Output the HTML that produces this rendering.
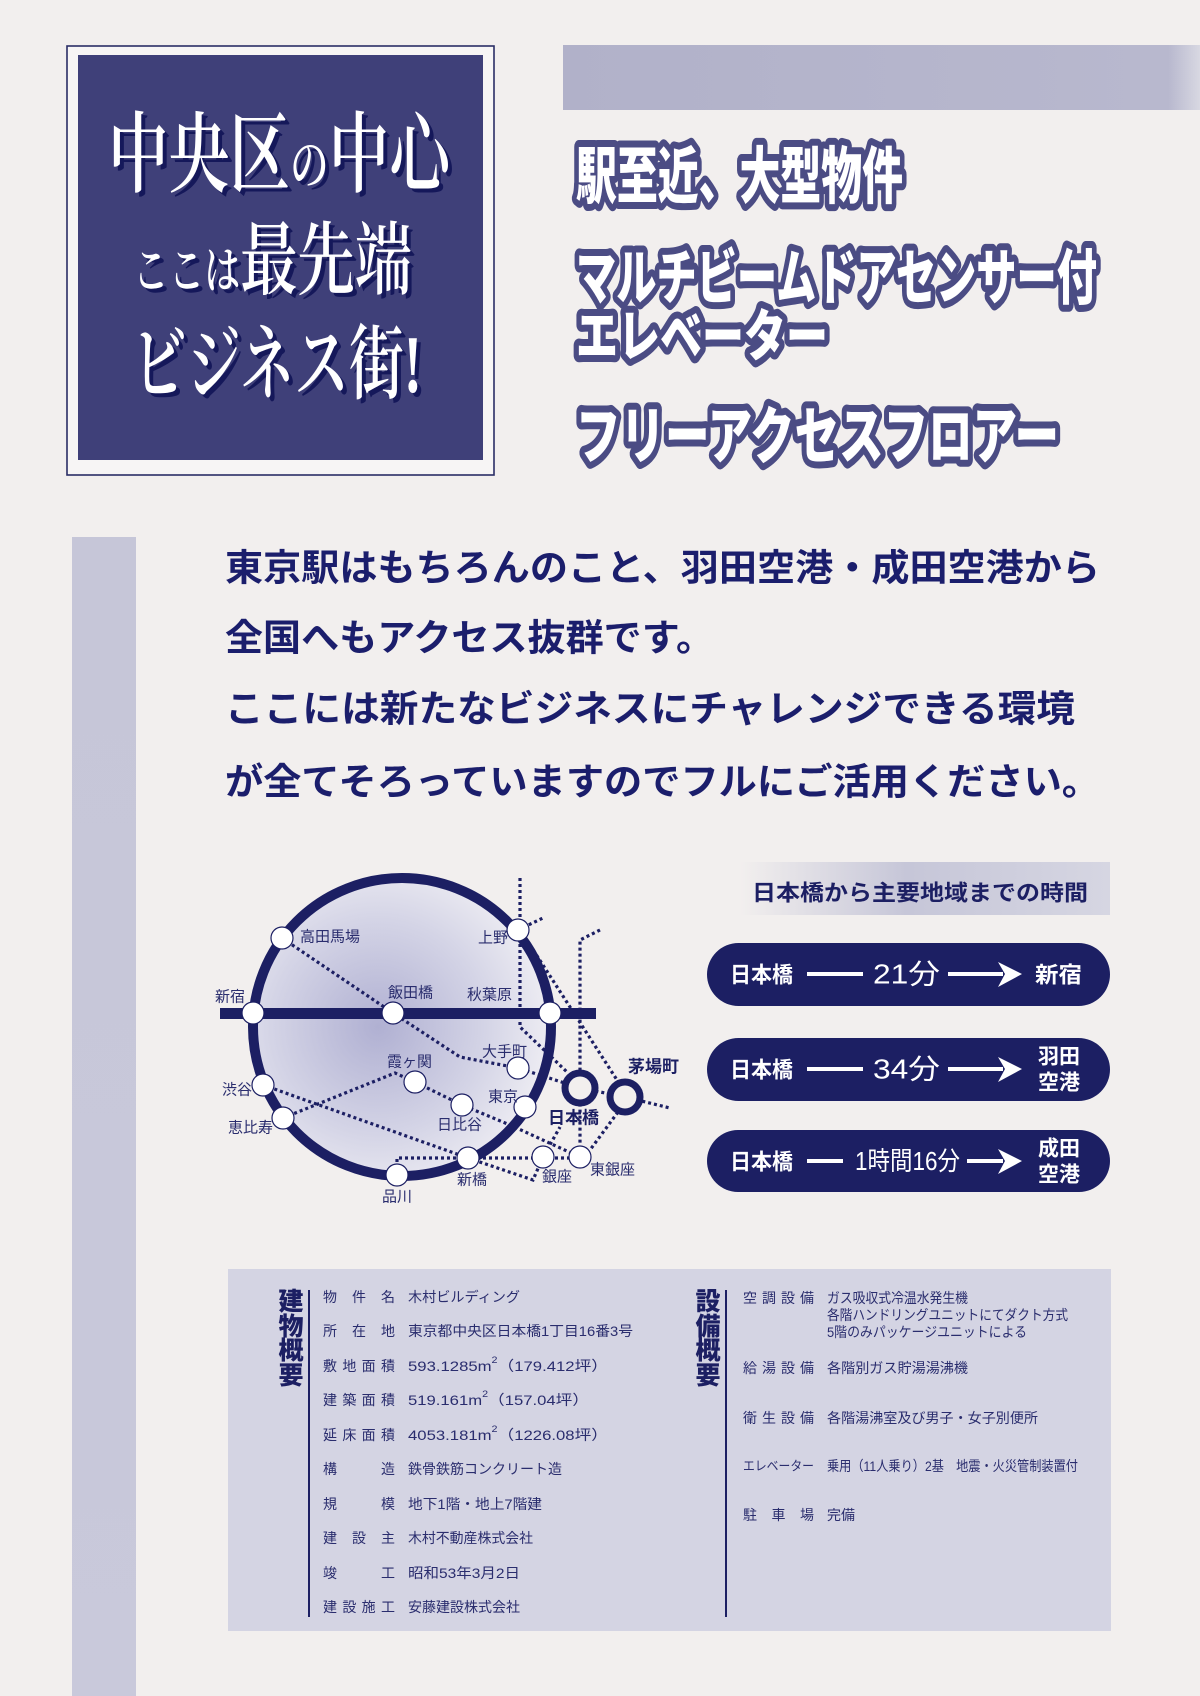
<!DOCTYPE html>
<html><head><meta charset="utf-8"><style>
html,body{margin:0;padding:0;background:#f2efee;}
body{width:1200px;height:1696px;position:relative;overflow:hidden;}
svg{position:absolute;left:0;top:0;}
</style></head><body>
<svg width="1200" height="1696" viewBox="0 0 1200 1696" xmlns="http://www.w3.org/2000/svg">
<defs>
<radialGradient id="cg" cx="0.42" cy="0.5" r="0.6">
<stop offset="0" stop-color="#b0b0d2"/><stop offset="0.6" stop-color="#d4d4e6"/><stop offset="1" stop-color="#f0eff4"/>
</radialGradient>
<linearGradient id="tb" x1="0" x2="1" y1="0" y2="0">
<stop offset="0" stop-color="#f2efee"/><stop offset="0.45" stop-color="#c6c6d8"/><stop offset="1" stop-color="#d6d6e2"/>
</linearGradient>
<linearGradient id="topbar" x1="0" x2="1"><stop offset="0" stop-color="#b1b1c9"/><stop offset="0.95" stop-color="#b8b8ce"/><stop offset="1" stop-color="#d8d8e2"/></linearGradient>
<linearGradient id="lbar" x1="0" x2="0" y1="0" y2="1"><stop offset="0" stop-color="#c6c6d8"/><stop offset="1" stop-color="#c9c9db"/></linearGradient>
</defs>

<rect x="67" y="46" width="427" height="429" fill="#f7f5f5" stroke="#2a2d66" stroke-width="1.6"/>
<rect x="78" y="55" width="405" height="405" fill="#3f4079"/>
<g font-family="'Liberation Serif','Noto Serif CJK SC',serif" font-weight="600">
<g fill="#15185a" transform="translate(4,4)">
<text x="108" y="185" font-size="88" textLength="342" lengthAdjust="spacingAndGlyphs">中央区<tspan font-size="56">の</tspan>中心</text>
<text x="133" y="288" font-size="80" textLength="279" lengthAdjust="spacingAndGlyphs"><tspan font-size="50">ここは</tspan>最先端</text>
<text x="132" y="392" font-size="82" textLength="290" lengthAdjust="spacingAndGlyphs">ビジネス街!</text>
</g>
<g fill="#ffffff">
<text x="108" y="185" font-size="88" textLength="342" lengthAdjust="spacingAndGlyphs">中央区<tspan font-size="56">の</tspan>中心</text>
<text x="133" y="288" font-size="80" textLength="279" lengthAdjust="spacingAndGlyphs"><tspan font-size="50">ここは</tspan>最先端</text>
<text x="132" y="392" font-size="82" textLength="290" lengthAdjust="spacingAndGlyphs">ビジネス街!</text>
</g>
</g>

<rect x="563" y="45" width="637" height="65" fill="url(#topbar)"/>

<g font-family="'Liberation Sans','Noto Sans CJK JP',sans-serif" font-weight="900" fill="#ffffff" stroke="#4b4c84" stroke-width="14" stroke-linejoin="round" paint-order="stroke">
<text x="576" y="198" font-size="62" textLength="327" lengthAdjust="spacingAndGlyphs">駅至近、大型物件</text>
<text x="576" y="299" font-size="60" textLength="521" lengthAdjust="spacingAndGlyphs">マルチビームドアセンサー付</text>
<text x="576" y="356" font-size="56" textLength="252" lengthAdjust="spacingAndGlyphs">エレベーター</text>
<text x="576" y="458" font-size="62" textLength="483" lengthAdjust="spacingAndGlyphs">フリーアクセスフロアー</text>
</g>

<rect x="72" y="537" width="64" height="1159" fill="url(#lbar)"/>

<g font-family="'Liberation Sans','Noto Sans CJK JP',sans-serif" font-weight="600" font-size="37" fill="#1b1e6c" dominant-baseline="central">
<text x="225" y="568" textLength="875" lengthAdjust="spacingAndGlyphs">東京駅はもちろんのこと、羽田空港・成田空港から</text>
<text x="225" y="638" textLength="489" lengthAdjust="spacingAndGlyphs">全国へもアクセス抜群です。</text>
<text x="225" y="709" textLength="850" lengthAdjust="spacingAndGlyphs">ここには新たなビジネスにチャレンジできる環境</text>
<text x="225" y="782" textLength="875" lengthAdjust="spacingAndGlyphs">が全てそろっていますのでフルにご活用ください。</text>
</g>

<circle cx="402" cy="1027" r="149" fill="url(#cg)"/>
<g fill="none" stroke="#1c1f63" stroke-width="3.2" stroke-dasharray="3 3">
<polyline points="282,938 393,1013 460,1057 518,1068 580,1088 625,1097 670,1108"/>
<polyline points="520,878 520,1027 567,1072"/>
<polyline points="518,930 545,917"/>
<polyline points="530,945 570,1007 617,1080"/>
<polyline points="600,930 580,940 580,1157"/>
<polyline points="618,1112 590,1150"/>
<polyline points="283,1118 395,1073 415,1082 462,1105 510,1125 580,1157"/>
<polyline points="263,1085 468,1158"/>
<polyline points="397,1168 397,1158 580,1158"/>
<polyline points="468,1158 533,1180 543,1157 560,1127"/>
</g>
<circle cx="402" cy="1027" r="149" fill="none" stroke="#1c1f63" stroke-width="10"/>
<rect x="220" y="1008" width="376" height="11" fill="#1c1f63"/>
<g fill="#ffffff" stroke="#1c1f63" stroke-width="1.2">
<circle cx="282" cy="938" r="11"/><circle cx="518" cy="930" r="11"/>
<circle cx="253" cy="1013" r="11"/><circle cx="393" cy="1013" r="11"/><circle cx="550" cy="1013" r="11"/>
<circle cx="518" cy="1068" r="11"/><circle cx="415" cy="1082" r="11"/><circle cx="462" cy="1105" r="11"/>
<circle cx="525" cy="1107" r="11"/><circle cx="263" cy="1085" r="11"/><circle cx="283" cy="1118" r="11"/>
<circle cx="397" cy="1175" r="11"/><circle cx="468" cy="1158" r="11"/><circle cx="543" cy="1157" r="11"/><circle cx="580" cy="1157" r="11"/>
</g>
<circle cx="580" cy="1088" r="15" fill="#f2efee" stroke="#1c1f63" stroke-width="7"/>
<circle cx="625" cy="1097" r="15" fill="#f2efee" stroke="#1c1f63" stroke-width="7"/>
<g font-family="'Liberation Sans','Noto Sans CJK JP',sans-serif" font-size="15" fill="#2a2d6e" dominant-baseline="central">
<text x="300" y="937">高田馬場</text>
<text x="478" y="938">上野</text>
<text x="215" y="997">新宿</text>
<text x="388" y="993">飯田橋</text>
<text x="467" y="995">秋葉原</text>
<text x="482" y="1052">大手町</text>
<text x="387" y="1062">霞ヶ関</text>
<text x="222" y="1090">渋谷</text>
<text x="488" y="1097">東京</text>
<text x="437" y="1125">日比谷</text>
<text x="228" y="1128">恵比寿</text>
<text x="457" y="1180">新橋</text>
<text x="542" y="1177">銀座</text>
<text x="590" y="1170">東銀座</text>
<text x="382" y="1197">品川</text>
<text x="548" y="1118" font-size="17" font-weight="bold" fill="#1c1f63">日本橋</text>
<text x="628" y="1067" font-size="17" font-weight="bold" fill="#1c1f63">茅場町</text>
</g>

<rect x="740" y="862" width="370" height="53" fill="url(#tb)"/>
<text x="752" y="893" font-family="'Liberation Sans','Noto Sans CJK JP',sans-serif" font-weight="bold" font-size="22" fill="#1c1f63" dominant-baseline="central" textLength="336" lengthAdjust="spacingAndGlyphs">日本橋から主要地域までの時間</text>
<g fill="#1c1f63">
<rect x="707" y="943" width="403" height="63" rx="31.5"/>
<rect x="707" y="1038" width="403" height="63" rx="31.5"/>
<rect x="707" y="1130" width="403" height="62" rx="31"/>
</g>
<g fill="#ffffff" stroke="none">
<rect x="807" y="972" width="56" height="4"/><rect x="948" y="972" width="55" height="4"/>
<polygon points="998,962 1022,974 998,987 1005,974"/>
<rect x="807" y="1067" width="56" height="4"/><rect x="948" y="1067" width="55" height="4"/>
<polygon points="998,1057 1022,1069 998,1082 1005,1069"/>
<rect x="807" y="1159" width="36" height="4"/><rect x="967" y="1159" width="36" height="4"/>
<polygon points="998,1149 1022,1161 998,1174 1005,1161"/>
</g>
<g font-family="'Liberation Sans','Noto Sans CJK JP',sans-serif" fill="#ffffff" dominant-baseline="central">
<g font-weight="bold" font-size="22">
<text x="730" y="975" textLength="63" lengthAdjust="spacingAndGlyphs">日本橋</text>
<text x="730" y="1070" textLength="63" lengthAdjust="spacingAndGlyphs">日本橋</text>
<text x="730" y="1162" textLength="63" lengthAdjust="spacingAndGlyphs">日本橋</text>
<text x="1035" y="975" textLength="47" lengthAdjust="spacingAndGlyphs">新宿</text>
<text x="1038" y="1057" font-size="21">羽田</text>
<text x="1038" y="1083" font-size="21">空港</text>
<text x="1038" y="1149" font-size="21">成田</text>
<text x="1038" y="1175" font-size="21">空港</text>
</g>
<text x="873" y="974" font-size="28" textLength="67" lengthAdjust="spacingAndGlyphs">21分</text>
<text x="873" y="1069" font-size="28" textLength="67" lengthAdjust="spacingAndGlyphs">34分</text>
<text x="855" y="1161" font-size="26" textLength="105" lengthAdjust="spacingAndGlyphs">1時間16分</text>
</g>

<rect x="228" y="1269" width="883" height="362" fill="#d4d4e3"/>
<g stroke="#1c1f63" stroke-width="2"><line x1="309" y1="1290" x2="309" y2="1617"/><line x1="726" y1="1290" x2="726" y2="1617"/></g>
<g font-family="'Liberation Sans','Noto Sans CJK JP',sans-serif" font-weight="900" font-size="25" fill="#1c1f63" text-anchor="middle" dominant-baseline="central">
<text x="291" y="1302">建</text><text x="291" y="1327">物</text><text x="291" y="1351">概</text><text x="291" y="1376">要</text>
<text x="708" y="1302">設</text><text x="708" y="1327">備</text><text x="708" y="1351">概</text><text x="708" y="1376">要</text>
</g>
<g font-family="'Liberation Sans','Noto Sans CJK JP',sans-serif" font-size="14" fill="#2a2d6e" dominant-baseline="central">
<text x="323" y="1297" textLength="72" lengthAdjust="spacing">物件名</text>
<text x="323" y="1331" textLength="72" lengthAdjust="spacing">所在地</text>
<text x="323" y="1366" textLength="72" lengthAdjust="spacing">敷地面積</text>
<text x="323" y="1400" textLength="72" lengthAdjust="spacing">建築面積</text>
<text x="323" y="1435" textLength="72" lengthAdjust="spacing">延床面積</text>
<text x="323" y="1469" textLength="72" lengthAdjust="spacing">構造</text>
<text x="323" y="1504" textLength="72" lengthAdjust="spacing">規模</text>
<text x="323" y="1538" textLength="72" lengthAdjust="spacing">建設主</text>
<text x="323" y="1573" textLength="72" lengthAdjust="spacing">竣工</text>
<text x="323" y="1607" textLength="72" lengthAdjust="spacing">建設施工</text>

<text x="408" y="1297" textLength="112" lengthAdjust="spacingAndGlyphs">木村ビルディング</text>
<text x="408" y="1331" textLength="225" lengthAdjust="spacingAndGlyphs">東京都中央区日本橋1丁目16番3号</text>
<text x="408" y="1366" textLength="200" lengthAdjust="spacingAndGlyphs">593.1285m<tspan font-size="9" dy="-6">2</tspan><tspan dy="6">（179.412坪）</tspan></text>
<text x="408" y="1400" textLength="181" lengthAdjust="spacingAndGlyphs">519.161m<tspan font-size="9" dy="-6">2</tspan><tspan dy="6">（157.04坪）</tspan></text>
<text x="408" y="1435" textLength="200" lengthAdjust="spacingAndGlyphs">4053.181m<tspan font-size="9" dy="-6">2</tspan><tspan dy="6">（1226.08坪）</tspan></text>
<text x="408" y="1469" textLength="154" lengthAdjust="spacingAndGlyphs">鉄骨鉄筋コンクリート造</text>
<text x="408" y="1504" textLength="134" lengthAdjust="spacingAndGlyphs">地下1階・地上7階建</text>
<text x="408" y="1538" textLength="125" lengthAdjust="spacingAndGlyphs">木村不動産株式会社</text>
<text x="408" y="1573" textLength="112" lengthAdjust="spacingAndGlyphs">昭和53年3月2日</text>
<text x="408" y="1607" textLength="112" lengthAdjust="spacingAndGlyphs">安藤建設株式会社</text>

<text x="743" y="1298" textLength="71" lengthAdjust="spacing">空調設備</text>
<text x="743" y="1368" textLength="71" lengthAdjust="spacing">給湯設備</text>
<text x="743" y="1418" textLength="71" lengthAdjust="spacing">衛生設備</text>
<text x="743" y="1466" textLength="71" lengthAdjust="spacingAndGlyphs" font-size="13">エレベーター</text>
<text x="743" y="1515" textLength="71" lengthAdjust="spacing">駐車場</text>

<text x="827" y="1298" textLength="141" lengthAdjust="spacingAndGlyphs">ガス吸収式冷温水発生機</text>
<text x="827" y="1315" textLength="241" lengthAdjust="spacingAndGlyphs">各階ハンドリングユニットにてダクト方式</text>
<text x="827" y="1332" textLength="200" lengthAdjust="spacingAndGlyphs">5階のみパッケージユニットによる</text>
<text x="827" y="1368" textLength="141" lengthAdjust="spacingAndGlyphs">各階別ガス貯湯湯沸機</text>
<text x="827" y="1418" textLength="211" lengthAdjust="spacingAndGlyphs">各階湯沸室及び男子・女子別便所</text>
<text x="827" y="1466" textLength="251" lengthAdjust="spacingAndGlyphs">乗用（11人乗り）2基　地震・火災管制装置付</text>
<text x="827" y="1515" textLength="28" lengthAdjust="spacingAndGlyphs">完備</text>
</g>
</svg>
</body></html>
